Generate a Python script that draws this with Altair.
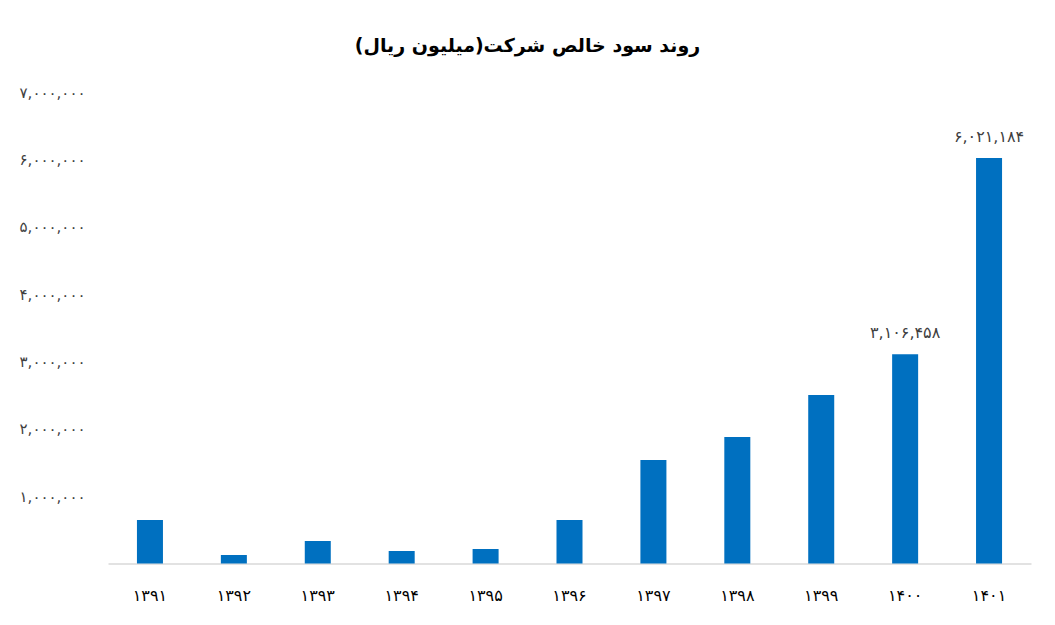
import json
import altair as alt
import pandas as pd

YEARS = ["۱۳۹۱", "۱۳۹۲", "۱۳۹۳", "۱۳۹۴", "۱۳۹۵", "۱۳۹۶", "۱۳۹۷", "۱۳۹۸", "۱۳۹۹", "۱۴۰۰", "۱۴۰۱"]
PROFIT = [646000, 126000, 334000, 186000, 215000, 646000, 1537000, 1878000, 2501000, 3106458, 6021184]
BAR_LABELS = ["", "", "", "", "", "", "", "", "", "۳,۱۰۶,۴۵۸", "۶,۰۲۱,۱۸۴"]
Y_TICKS = [0, 1000000, 2000000, 3000000, 4000000, 5000000, 6000000, 7000000]
Y_TICK_LABELS = ["", "۱,۰۰۰,۰۰۰", "۲,۰۰۰,۰۰۰", "۳,۰۰۰,۰۰۰", "۴,۰۰۰,۰۰۰",
                 "۵,۰۰۰,۰۰۰", "۶,۰۰۰,۰۰۰", "۷,۰۰۰,۰۰۰"]
TITLE = "روند سود خالص شرکت(میلیون ریال)"

df = pd.DataFrame({"year": YEARS, "profit": PROFIT, "label": BAR_LABELS})

FONT = "DejaVu Sans"
label_expr = json.dumps(Y_TICK_LABELS, ensure_ascii=False) + "[round(datum.value/1000000)]"

x = alt.X("year:N", sort=YEARS,
          scale=alt.Scale(paddingInner=0.69, paddingOuter=0.345),
          axis=alt.Axis(title=None, labelAngle=0, ticks=False, domainColor="#d9d9d9",
                        domainWidth=1.5, labelFont=FONT, labelFontSize=16,
                        labelColor="#000000", labelPadding=24))
y = alt.Y("profit:Q", scale=alt.Scale(domain=[0, 7000000], nice=False),
          axis=alt.Axis(title=None, values=Y_TICKS, labelExpr=label_expr, grid=False,
                        domain=False, ticks=False, labelFont=FONT, labelFontSize=15,
                        labelColor="#404040", labelPadding=23))

bars = alt.Chart(df).mark_bar(color="#0070C0").encode(x=x, y=y)
texts = alt.Chart(df).mark_text(font=FONT, fontSize=16, color="#404040",
                                baseline="bottom", dy=-13).encode(
    x=alt.X("year:N", sort=YEARS), y="profit:Q", text="label:N")

chart = alt.layer(bars, texts).properties(
    width=923, height=471.5,
    padding={"left": 100, "top": 84, "right": 16, "bottom": 53},
    autosize=alt.AutoSizeParams(type="none"),
    title=alt.TitleParams(TITLE, font=FONT, fontSize=19, fontWeight="bold",
                          color="#000000", anchor="middle", dx=-42, offset=29),
).configure(background="white").configure_view(stroke=None)

chart.save("out.html", embed_options={"renderer": "svg", "actions": False})
